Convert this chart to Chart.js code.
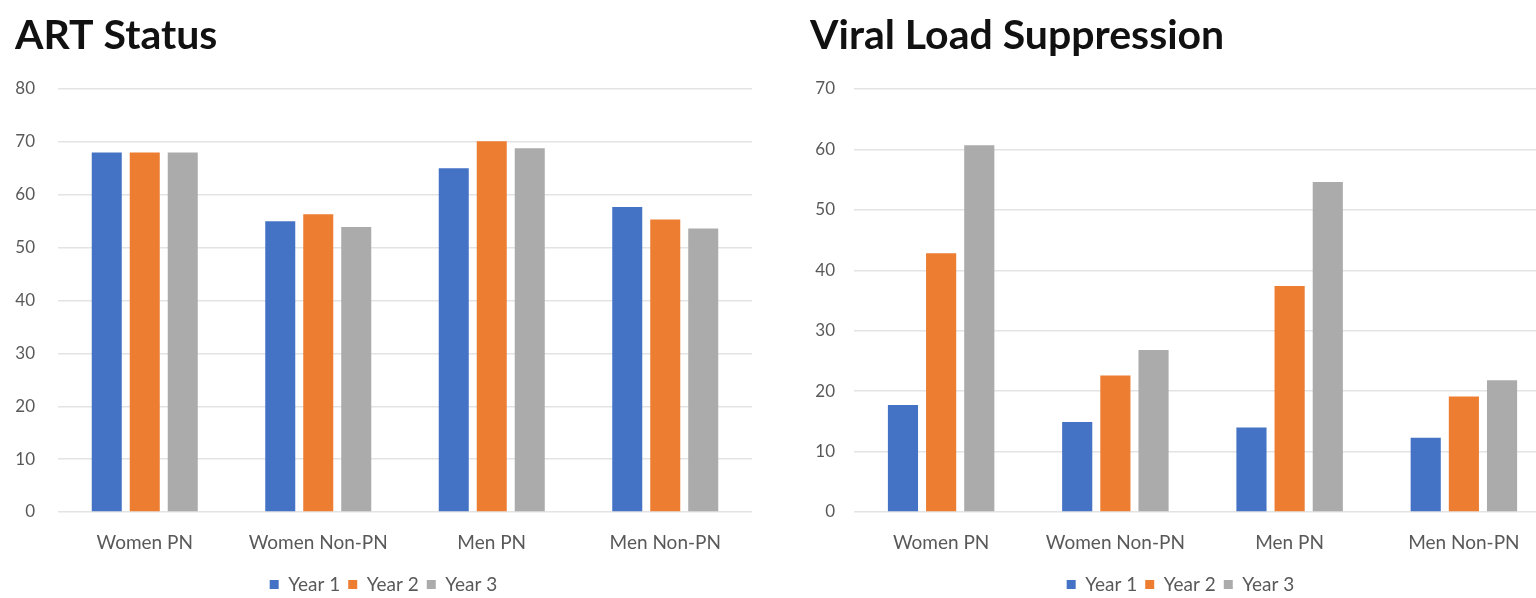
<!DOCTYPE html>
<html>
<head>
<meta charset="utf-8">
<script src="https://cdn.jsdelivr.net/npm/chart.js@4.4.1/dist/chart.umd.min.js"></script>
<style>
  html, body { margin: 0; padding: 0; background: #fff; overflow: hidden; width: 1536px; height: 598px; }
  canvas { position: absolute; top: 0; }
  #c1 { left: 0; }
  #c2 { left: 795px; }
</style>
</head>
<body>
<canvas id="c1" width="768" height="598"></canvas>
<canvas id="c2" width="786" height="598"></canvas>
<script>
const categories = ['Women PN', 'Women Non-PN', 'Men PN', 'Men Non-PN'];
const seriesNames = ['Year 1', 'Year 2', 'Year 3'];
const artYear1 = [68, 55, 65, 57.7];
const artYear2 = [68, 56.3, 70.1, 55.3];
const artYear3 = [68, 53.9, 68.8, 53.6];
const vlsYear1 = [17.7, 14.9, 14, 12.3];
const vlsYear2 = [42.8, 22.6, 37.4, 19.1];
const vlsYear3 = [60.7, 26.8, 54.6, 21.8];
const artTicksMax = 80;
const vlsTicksMax = 70;
const tickStep = 10;

const colors = ['#4472C4', '#ED7D31', '#ABABAB'];
const FONT = 'Lato, "Open Sans", sans-serif';

function makeChart(id, title, data, yMax, yAxisWidth, tickPad, padRight) {
  const datasets = data.map((vals, i) => ({
    label: seriesNames[i],
    data: vals,
    backgroundColor: colors[i],
    borderWidth: 0,
    categoryPercentage: 0.657,
    barPercentage: 0.79
  }));
  return new Chart(document.getElementById(id), {
    type: 'bar',
    data: { labels: categories, datasets },
    options: {
      responsive: false,
      animation: false,
      devicePixelRatio: 1,
      layout: { padding: { left: 15, right: padRight, top: 0, bottom: -6 } },
      plugins: {
        title: {
          display: true,
          text: title,
          align: 'start',
          color: '#111111',
          font: { family: FONT, size: 41, weight: 'bold' },
          padding: { top: 11, bottom: 28.8 }
        },
        legend: {
          position: 'bottom',
          labels: {
            boxWidth: 9,
            boxHeight: 9,
            padding: 8,
            color: '#595959',
            font: { family: FONT, size: 19 }
          }
        },
        tooltip: { enabled: false }
      },
      scales: {
        x: {
          grid: { display: false },
          border: { display: false },
          ticks: {
            color: '#595959',
            padding: 11,
            font: { family: FONT, size: 19 },
            maxRotation: 0,
            autoSkip: false
          },
          afterFit: (s) => { s.height = 55; }
        },
        y: {
          min: 0,
          max: yMax,
          grid: { color: '#e3e3e3', lineWidth: 1.5, drawTicks: false },
          border: { display: false },
          ticks: {
            stepSize: tickStep,
            color: '#595959',
            padding: tickPad,
            font: { family: FONT, size: 17 }
          },
          afterFit: (s) => { s.width = yAxisWidth; }
        }
      }
    }
  });
}

makeChart('c1', 'ART Status', [artYear1, artYear2, artYear3], artTicksMax, 43, 23, 16);
makeChart('c2', 'Viral Load Suppression', [vlsYear1, vlsYear2, vlsYear3], vlsTicksMax, 44, 19, 30);
</script>
</body>
</html>
